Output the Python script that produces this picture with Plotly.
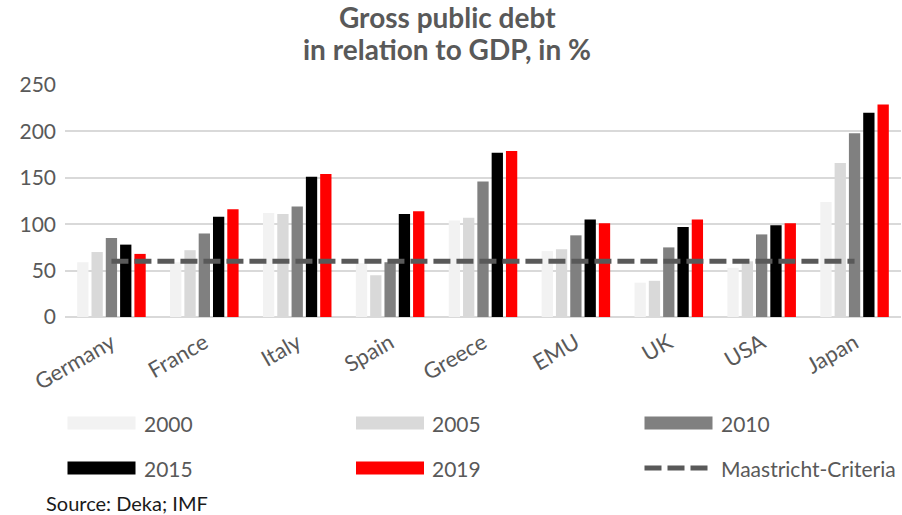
import plotly.graph_objects as go

# --- data -----------------------------------------------------------------
countries = ["Germany", "France", "Italy", "Spain", "Greece", "EMU", "UK", "USA", "Japan"]
years = ["2000", "2005", "2010", "2015", "2019"]

debt_2000 = [59, 59, 112, 58, 104, 71, 37, 53, 124]
debt_2005 = [70, 72, 111, 45, 107, 73, 39, 60, 166]
debt_2010 = [85, 90, 119, 59, 146, 88, 75, 89, 198]
debt_2015 = [78, 108, 151, 111, 177, 105, 97, 99, 220]
debt_2019 = [68, 116, 154, 114, 179, 101, 105, 101, 229]
series = [debt_2000, debt_2005, debt_2010, debt_2015, debt_2019]

maastricht_limit = 60
y_ticks = [0, 50, 100, 150, 200, 250]
title_lines = ["Gross public debt", "in relation to GDP, in %"]

# --- styling --------------------------------------------------------------
bar_colors = ["#f2f2f2", "#d9d9d9", "#808080", "#000000", "#ff0000"]
line_color = "#595959"
text_color = "#595959"
font_family = "Lato"

W, H = 902, 515
L, R, T, B = 65, 1, 85, 198
plot_w = W - L - R
plot_h = H - T - B


def px_x(px):
    return (px - L) / plot_w


def px_y(py):
    return (H - B - py) / plot_h


fig = go.Figure()

for name, values, color in zip(years, series, bar_colors):
    fig.add_trace(go.Bar(
        name=name, x=countries, y=values,
        marker=dict(color=color, line=dict(width=0)),
        showlegend=False,
    ))

fig.add_trace(go.Scatter(
    name="Maastricht-Criteria", x=countries, y=[maastricht_limit] * len(countries),
    mode="lines", line=dict(color=line_color, width=5, dash="17px,6px"),
    showlegend=False,
))

# --- legend drawn as swatches + labels in a 3x2 grid ------------------------
legend_items = [(y, c) for y, c in zip(years, bar_colors)] + [("Maastricht-Criteria", None)]
col_x = [67.5, 356, 644.5]
row_y = [423, 468]
sw_w, sw_h = 68, 13
shapes = []
annotations = []
for i, (label, color) in enumerate(legend_items):
    cx = col_x[i % 3]
    cy = row_y[i // 3]
    if color is not None:
        shapes.append(dict(
            type="rect", xref="paper", yref="paper",
            x0=px_x(cx), x1=px_x(cx + sw_w),
            y0=px_y(cy + sw_h / 2), y1=px_y(cy - sw_h / 2),
            fillcolor=color, line=dict(width=0), layer="above",
        ))
    else:
        shapes.append(dict(
            type="line", xref="paper", yref="paper",
            x0=px_x(cx), x1=px_x(cx + 64), y0=px_y(cy), y1=px_y(cy),
            line=dict(color=line_color, width=5, dash="17px,6px"),
        ))
    annotations.append(dict(
        text=label, xref="paper", yref="paper",
        x=px_x(cx + sw_w + 6), y=px_y(cy), xanchor="left", yanchor="middle",
        showarrow=False, font=dict(family=font_family, size=21, color=text_color),
    ))

annotations.append(dict(
    text="Source: Deka; IMF", xref="paper", yref="paper",
    x=px_x(44), y=px_y(503), xanchor="left", yanchor="middle",
    showarrow=False, font=dict(family=font_family, size=20, color="#1a1a1a"),
))

# two-line heading
for line, py in zip(title_lines, [17, 49]):
    annotations.append(dict(
        text=f"<b>{line}</b>", xref="paper", yref="paper",
        x=px_x(447), y=px_y(py), xanchor="center", yanchor="middle",
        showarrow=False, font=dict(family=font_family, size=28, color=text_color),
    ))

fig.update_layout(
    width=W, height=H,
    margin=dict(l=L, r=R, t=T, b=B, autoexpand=False),
    paper_bgcolor="white", plot_bgcolor="white",
    barmode="group", bargap=0.23, bargroupgap=0.21,
    xaxis=dict(
        tickangle=-30, showgrid=False, showline=False, zeroline=False,
        tickfont=dict(family=font_family, size=22, color=text_color),
        ticklabelstandoff=8,
    ),
    yaxis=dict(
        range=[0, 250], tickvals=y_ticks, showgrid=True, gridcolor="#d9d9d9",
        gridwidth=1.5, zeroline=True, zerolinecolor="#d9d9d9", zerolinewidth=1.5,
        tickfont=dict(family=font_family, size=21, color=text_color),
        ticklabelstandoff=8,
    ),
    shapes=shapes,
    annotations=annotations,
    showlegend=False,
)

fig.write_html("out.html")
